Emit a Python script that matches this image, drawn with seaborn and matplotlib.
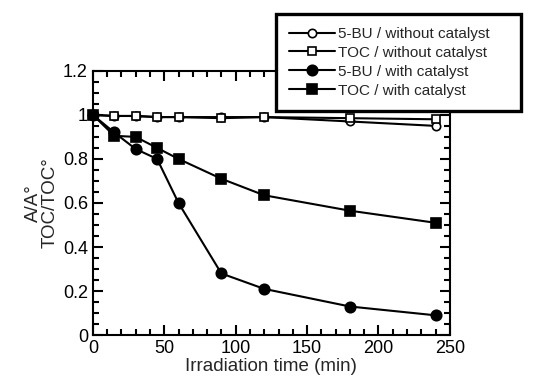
import seaborn as sns
import matplotlib.pyplot as plt
import pandas as pd
from matplotlib.ticker import MultipleLocator, FormatStrFormatter

# irradiation time points (min)
time_min = [0, 15, 30, 45, 60, 90, 120, 180, 240]

# normalised values
bu_without = [1.0, 0.995, 0.995, 0.99, 0.99, 0.99, 0.99, 0.97, 0.95]
toc_without = [1.0, 0.995, 0.995, 0.99, 0.99, 0.985, 0.99, 0.985, 0.98]
bu_with = [1.0, 0.92, 0.845, 0.80, 0.60, 0.28, 0.21, 0.13, 0.09]
toc_with = [1.0, 0.905, 0.90, 0.85, 0.80, 0.71, 0.635, 0.565, 0.51]

series_names = ["5-BU / without catalyst", "TOC / without catalyst",
                "5-BU / with catalyst", "TOC / with catalyst"]

df = pd.DataFrame({
    "time": time_min * 4,
    "value": bu_without + toc_without + bu_with + toc_with,
    "series": [n for n in series_names for _ in time_min],
})

sns.set_style("ticks")
plt.rcParams["font.family"] = ["Liberation Sans", "DejaVu Sans"]

fig = plt.figure(figsize=(5.46, 3.87), dpi=100)
ax = fig.add_axes([0.170, 0.134, 0.654, 0.683])

styles = {
    "5-BU / without catalyst": dict(marker="o", mfc="white", ms=6),
    "TOC / without catalyst": dict(marker="s", mfc="white", ms=6),
    "5-BU / with catalyst": dict(marker="o", mfc="black", ms=7.5),
    "TOC / with catalyst": dict(marker="s", mfc="black", ms=7.5),
}

for name in series_names:
    st = styles[name]
    sub = df[df["series"] == name]
    sns.lineplot(data=sub, x="time", y="value", ax=ax, color="black", lw=1.5,
                 marker=st["marker"], markerfacecolor=st["mfc"],
                 markeredgecolor="black", markeredgewidth=1.2,
                 markersize=st["ms"], label=name, clip_on=False, zorder=3)

ax.set_xlim(0, 250)
ax.set_ylim(0, 1.2)
ax.xaxis.set_major_locator(MultipleLocator(50))
ax.xaxis.set_minor_locator(MultipleLocator(10))
ax.yaxis.set_major_locator(MultipleLocator(0.2))
ax.yaxis.set_minor_locator(MultipleLocator(0.05))
ax.yaxis.set_major_formatter(FormatStrFormatter("%g"))
ax.tick_params(which="both", direction="in", top=True, right=True,
               width=1.5, labelsize=13, colors="black")
ax.tick_params(which="major", length=7)
ax.tick_params(which="minor", length=4)
for sp in ax.spines.values():
    sp.set_linewidth(1.5)
    sp.set_color("black")

ax.set_xlabel("Irradiation time (min)", fontsize=13.5, labelpad=1)
ax.set_ylabel("A/A°\nTOC/TOC°", fontsize=13.5, labelpad=3, linespacing=0.95)

handles, labels = ax.get_legend_handles_labels()
ax.get_legend().remove()
leg = fig.legend(handles, labels, loc="upper left",
                 bbox_to_anchor=(0.505, 0.72, 0.449, 0.244), mode="expand",
                 fontsize=11, frameon=True, fancybox=False, framealpha=1,
                 edgecolor="black", handlelength=3.0, handletextpad=0.25,
                 borderpad=0.85, labelspacing=0.32, borderaxespad=0)
leg.get_frame().set_linewidth(2.4)
leg.set_zorder(10)

plt.savefig("out.png", dpi=100)
